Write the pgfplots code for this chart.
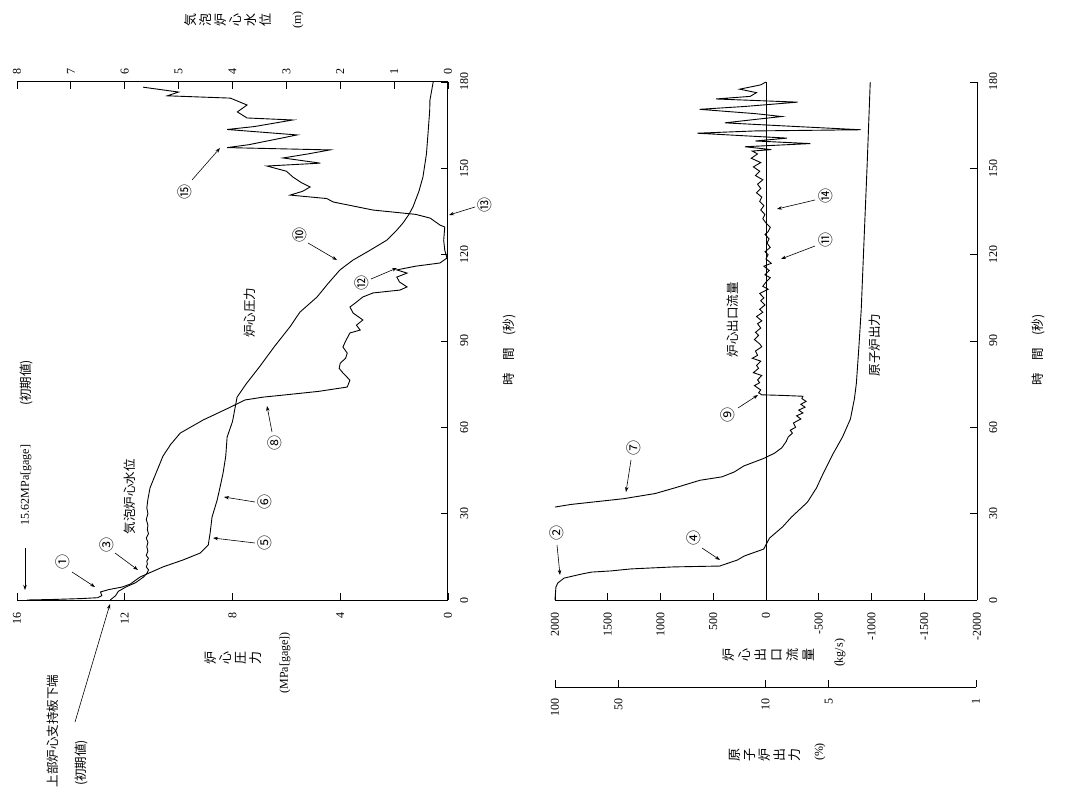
\documentclass[border=0pt]{standalone}
\usepackage{fontspec}
\setmainfont{Liberation Serif}
\newfontfamily\cjk{Noto Sans CJK JP}
\usepackage{pgfplots}
\usepackage{pgfplotstable}
\pgfplotsset{compat=1.18}
\usetikzlibrary{arrows.meta}

\pgfplotstableread{
t P
0 15.62
0.2 14.6
0.5 13.6
0.8 13.0
1.5 12.85
2.8 12.9
3.6 12.6
4.5 12.1
5.5 11.8
8 11.43
11.5 10.58
13.9 9.84
16.3 9.2
19.1 8.9
23.3 8.83
28.8 8.76
34.7 8.57
39.3 8.46
44.1 8.35
50 8.25
56.6 8.2
62 8.0
66 7.92
70.5 7.83
75 7.5
81 7.0
88 6.45
95 5.86
100 5.5
105.3 4.86
110 4.45
114.7 4.01
118.1 3.53
121.5 2.9
125.1 2.26
128 1.95
131 1.67
134 1.45
136.6 1.30
142 1.08
147 0.93
155 0.80
162.3 0.74
170 0.68
173.7 0.67
180 0.55
}\pressure

\pgfplotstableread{
t L
0 6.27
1.5 6.17
3 6.12
4.5 5.98
6 5.80
8 5.65
9.5 5.58
10.5 5.56
11.5 5.60
12.5 5.58
13.5 5.59
14.5 5.56
15.5 5.60
17 5.57
18.5 5.59
20 5.57
21.5 5.60
23 5.56
24.5 5.58
26 5.57
28 5.60
30 5.57
32 5.59
35 5.57
39 5.53
45 5.40
50 5.29
54 5.15
58 4.97
62.5 4.55
67 4.04
69.5 3.77
70.5 3.43
71.2 3.06
72.5 2.40
74 1.87
76.4 1.82
78.9 1.95
80.5 2.02
82.3 2.00
84 1.90
85.8 1.87
87.9 1.95
90 1.90
92.8 1.82
93.8 1.63
95.5 1.70
97.3 1.58
99.7 1.76
101.8 1.82
103.5 1.70
105.3 1.58
106.7 1.39
107.7 0.89
108.8 0.76
110.5 0.90
112.2 0.95
113.6 0.76
114.7 0.95
116 0.60
117.1 0.15
118.8 0.02
121.6 0.06
125 0.08
129.6 0.06
130.3 0.15
132.7 0.33
134 0.60
135.5 1.39
138.3 2.13
139.5 2.25
140.7 2.93
142 2.70
143.5 2.56
145 2.72
147 2.88
149 3.00
150.8 3.36
151.8 2.37
153.6 3.06
155 2.60
156.4 2.19
157.2 4.10
158.2 3.70
161.6 2.80
163.5 4.10
164.5 3.60
166.8 2.88
167.5 3.73
169.6 3.91
172 3.73
174.4 4.04
175.2 5.21
176.5 5.00
178.2 5.66
}\level

\pgfplotstableread{
t F
32.3 2000
33.2 1850
35.2 1350
37 1050
39 860
41.6 626
42.8 417
44.5 300
46.6 209
49.1 28
51 -80
52.9 -150
55 -190
56.6 -210
58 -250
59 -230
60 -280
61.5 -260
62.9 -330
64 -290
65 -350
66 -310
67 -370
68 -330
69 -380
70 -340
70.8 -350
71.1 -150
71.3 40
72 70
73 50
74.5 110
75.5 60
76.5 80
78 40
79 120
80.5 70
81.5 90
83 50
84 130
85 80
86.5 100
88 40
89 60
90.5 110
92 70
93 100
94.5 50
96 80
97 40
98.5 90
100 30
101 60
102.5 10
104 50
105 20
106.5 60
108 -20
109 30
110.5 0
112 -40
113 10
114.5 -30
116 20
117 -50
118.5 0
120 -20
121 10
122.5 -40
124 -10
125.5 -30
127 10
128 -20
129.5 -40
131 0
132.5 30
134 10
135.5 50
137 20
138.5 60
140 40
141.5 90
143 50
144.5 80
146 30
147.5 100
149 60
150.5 120
152 50
153.5 140
155 80
156 130
156.5 -50
157.5 200
158.6 -420
159.5 100
160.5 -200
162.2 650
163 100
163.4 -900
164.5 -300
165.8 390
167 100
168 -150
169 100
170.5 630
171.5 200
173 -300
174.1 475
175 150
176.3 90
177.5 250
179 50
180 0
}\flow

\pgfplotstableread{
t p
0 100
4.5 99
5.9 97
7.6 90.6
9 75
9.7 67
10.1 54.3
10.8 43.6
11.5 27.3
11.8 16.5
13.9 13.6
15.3 12.6
17.7 10.2
21.5 9.57
25.4 8.3
28.8 7.53
34 6.32
38.9 5.73
44.1 5.31
50.4 4.81
56.6 4.31
62.9 3.95
70 3.78
75.4 3.70
88 3.60
100.8 3.51
125.8 3.40
151.1 3.29
180 3.18
}\power

\pgfplotsset{
  every non boxed x axis/.style={},
  every non boxed y axis/.style={},
  base/.style={
    scale only axis, clip=false,
    tick align=inside, major tick length=7pt,
    tick style={black, line width=0.8pt},
    axis line style={black, line width=1pt, -},
    x axis line style={-}, y axis line style={-},
    ticklabel style={font=\fontsize{12}{12}\selectfont, inner sep=0pt},
    /pgf/number format/assume math mode=true,
    /pgf/number format/1000 sep={},
  },
  curve/.style={black, line width=0.9pt, no marks},
}

\begin{document}
\begin{tikzpicture}
\useasboundingbox (0,0) rectangle (1065pt,809pt);

% ---------- left panel: pressure ----------
\begin{axis}[base, at={(17pt,209pt)}, anchor=south west,
  width=431pt, height=518pt,
  xmin=0, xmax=16, x dir=reverse, ymin=0, ymax=180,
  axis x line=bottom, axis y line=right,
  xtick={0,4,8,12,16}, ytick={0,30,...,180},
  xticklabel style={rotate=90, anchor=east}, xticklabel shift=12pt,
  yticklabel style={rotate=90, anchor=north}, yticklabel shift=12pt]
\addplot[curve] table[x=P, y=t] {\pressure};
\end{axis}

% ---------- left panel: water level ----------
\begin{axis}[base, at={(17pt,209pt)}, anchor=south west,
  width=431pt, height=518pt,
  xmin=0, xmax=8, x dir=reverse, ymin=0, ymax=180,
  axis x line=top, axis y line=none,
  xtick={0,1,...,8},
  xticklabel style={rotate=90, anchor=west}, xticklabel shift=7pt]
\addplot[curve] table[x=L, y=t] {\level};
\end{axis}

% ---------- right panel: flow ----------
\begin{axis}[base, at={(555pt,209pt)}, anchor=south west,
  width=422pt, height=518pt,
  xmin=-2000, xmax=2000, x dir=reverse, ymin=0, ymax=180,
  axis x line=bottom, axis y line=right,
  xtick={-2000,-1500,...,2000}, ytick={0,30,...,180},
  xticklabel style={rotate=90, anchor=east}, xticklabel shift=12pt,
  yticklabel style={rotate=90, anchor=north}, yticklabel shift=12pt]
\draw[black, line width=1pt] (axis cs:0,0) -- (axis cs:0,180);
\addplot[curve] table[x=F, y=t] {\flow};
\end{axis}

% ---------- right panel: power axis (ticks only) ----------
\begin{axis}[base, at={(555pt,122pt)}, anchor=south west,
  width=421pt, height=1pt,
  xmode=log, xmin=1, xmax=100, x dir=reverse, ymin=0, ymax=1,
  axis x line=bottom, axis y line=none,
  xtick={1,5,10,50,100}, xticklabels={1,5,10,50,100}, minor xtick={},
  xticklabel style={rotate=90, anchor=east}, xticklabel shift=11pt]
\end{axis}

% ---------- right panel: power curve ----------
\begin{axis}[base, at={(555pt,209pt)}, anchor=south west,
  width=421pt, height=518pt, hide axis,
  xmode=log, xmin=1, xmax=100, x dir=reverse, ymin=0, ymax=180]
\addplot[curve] table[x=p, y=t] {\power};
\end{axis}

% ---------- annotations (image pixel coordinates) ----------
\begin{scope}[shift={(0pt,809pt)}, x=1pt, y=-1pt]
\tikzset{
  circ/.style={rotate=90, font=\cjk\fontsize{15}{15}\selectfont, inner sep=0pt},
  arr/.style={black, line width=0.6pt, -{Stealth[length=5pt,width=3.5pt]}},
  jp/.style={rotate=90, font=\cjk\fontsize{12.5}{12.5}\selectfont, inner sep=0pt},
  stk/.style={rotate=90, align=center, font=\cjk\fontsize{13}{15}\selectfont, inner sep=0pt},
  lat/.style={rotate=90, font=\fontsize{12}{12}\selectfont, inner sep=0pt},
}
% left panel circled numbers
\node[circ] at (63,562) {①};  \draw[arr] (72,572) -- (95,587);
\node[circ] at (107,545) {③}; \draw[arr] (115,553) -- (138,570);
\node[circ] at (265,543) {⑤}; \draw[arr] (255,543) -- (213,538);
\node[circ] at (265,502) {⑥}; \draw[arr] (255,502) -- (224,497);
\node[circ] at (275,443) {⑧}; \draw[arr] (272,432) -- (267,406);
\node[circ] at (300,235) {⑩}; \draw[arr] (308,243) -- (337,260);
\node[circ] at (362,283) {⑫}; \draw[arr] (371,279) -- (397,268);
\node[circ] at (485,205) {⑬}; \draw[arr] (475,207) -- (449,215);
\node[circ] at (185,192) {⑮}; \draw[arr] (192,180) -- (220,148);
% right panel circled numbers
\node[circ] at (557,533) {②}; \draw[arr] (557,545) -- (560,575);
\node[circ] at (694,538) {④}; \draw[arr] (702,548) -- (720,560);
\node[circ] at (634,448) {⑦}; \draw[arr] (631,460) -- (626,492);
\node[circ] at (728,415) {⑨}; \draw[arr] (738,408) -- (758,395);
\node[circ] at (826,240) {⑪}; \draw[arr] (815,246) -- (781,259);
\node[circ] at (826,196) {⑭}; \draw[arr] (815,200) -- (777,209);

% in-plot labels
\node[jp] at (130,497) {気泡炉心水位};
\node[jp] at (250,313) {炉心圧力};
\node[jp] at (733,320) {炉心出口流量};
\node[jp] at (875,345) {原子炉出力};

% axis titles
\node[stk] at (233,658) {炉\\心\\圧\\力};
\node[lat] at (285,663) {(MPa[gage])};
\node[stk] at (228,20) {気\\泡\\炉\\心\\水\\位};
\node[lat] at (298,20) {(m)};
\node[jp] at (509,350) {時　間　(秒)};
\node[jp] at (1038,350) {時　間　(秒)};
\node[stk, font=\cjk\fontsize{13}{16}\selectfont] at (768,655) {炉\\心\\出\\口\\流\\量};
\node[lat] at (840,653) {(kg/s)};
\node[stk] at (765,755) {原\\子\\炉\\出\\力};
\node[lat] at (820,752) {(\%)};

% initial-value notes
\node[jp] at (53,731) {上部炉心支持板下端};
\node[jp] at (81,763) {(初期値)};
\draw[arr] (75,722) -- (110,604);
\node[lat] at (26,485) {15.62MPa[gage]};
\node[jp] at (26,383) {(初期値)};
\draw[arr] (25,548) -- (25,590);
\end{scope}
\end{tikzpicture}
\end{document}
